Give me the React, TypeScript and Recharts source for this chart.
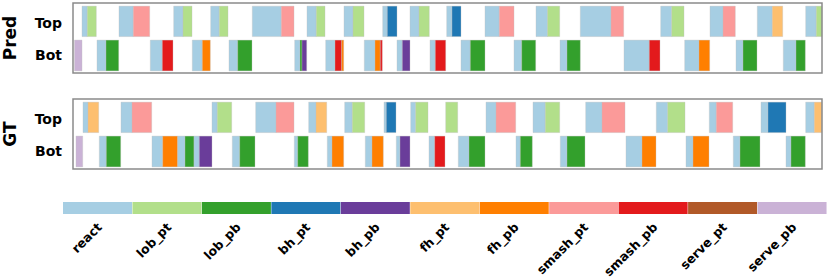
import React from "react";
import { ComposedChart, BarChart, Bar, Cell, XAxis, YAxis, ReferenceArea } from "recharts";

// action classes and their colours (colour bar order)
const classes = ["react", "lob_pt", "lob_pb", "bh_pt", "bh_pb", "fh_pt", "fh_pb", "smash_pt", "smash_pb", "serve_pt", "serve_pb"];
const classColors = ["#a6cee3", "#b2df8a", "#33a02c", "#1f78b4", "#6a3d9a", "#fdbf6f", "#ff7f00", "#fb9a99", "#e31a1c", "#b15928", "#cab2d6"];

// timeline length (frames)
const timeMax = 749;

// segments: [start, end, class]
type Seg = [number, number, string];

const predTop: Seg[] = [
  [9, 14.3, "react"], [14.3, 23.3, "lob_pt"],
  [46, 60.3, "react"], [60.3, 76.7, "smash_pt"],
  [100.7, 110, "react"], [110, 119, "lob_pt"],
  [137.7, 146.3, "react"], [146.3, 155, "lob_pt"],
  [179.3, 208.3, "react"], [208.3, 221, "smash_pt"],
  [234, 243.3, "react"], [243.3, 252, "lob_pt"],
  [271, 280, "react"], [280, 291, "lob_pt"],
  [309.7, 314.3, "react"], [314.3, 324, "bh_pt"],
  [337, 346, "react"], [346, 356.3, "lob_pt"],
  [373.7, 379, "react"], [379, 388, "bh_pt"],
  [412, 426.3, "react"], [426.3, 441, "smash_pt"],
  [463, 474.5, "react"], [474.5, 486.7, "lob_pt"],
  [507.3, 538, "react"], [538, 550.7, "smash_pt"],
  [587.7, 598.7, "react"], [598.7, 611, "lob_pt"],
  [637, 650, "react"], [650, 662.3, "smash_pt"],
  [684.3, 699.3, "react"], [699.3, 709.7, "fh_pt"],
  [732.7, 743.3, "react"], [743.3, 749, "lob_pt"],
];

const predBot: Seg[] = [
  [1.5, 9, "serve_pb"],
  [24, 33, "react"], [33, 45.7, "lob_pb"],
  [77.3, 89.3, "react"], [89.3, 100, "smash_pb"],
  [119.3, 129.3, "react"], [129.3, 137.3, "fh_pb"],
  [156, 164.7, "react"], [164.7, 179, "lob_pb"],
  [221.7, 227, "react"], [227, 229, "lob_pb"], [229, 233.7, "bh_pb"],
  [252.7, 262, "react"], [262, 268.7, "smash_pb"], [268.7, 270.7, "fh_pb"],
  [291.3, 302, "react"], [302, 307.3, "fh_pb"], [307.3, 309.3, "smash_pb"],
  [324, 329.3, "react"], [329.3, 337, "bh_pb"],
  [357, 362.3, "react"], [362.3, 372.7, "smash_pb"],
  [388, 397.3, "react"], [397.3, 412, "lob_pb"],
  [441, 448.7, "react"], [448.7, 462.7, "lob_pb"],
  [487, 494, "react"], [494, 507.3, "lob_pb"],
  [551, 576.3, "react"], [576.3, 587, "smash_pb"],
  [611.7, 626, "react"], [626, 636.7, "fh_pb"],
  [663, 670, "react"], [670, 684, "lob_pb"],
  [710.3, 723, "react"], [723, 732.3, "lob_pb"],
];

const gtTop: Seg[] = [
  [10, 15, "react"], [15, 25.7, "fh_pt"],
  [48, 59, "react"], [59, 78.7, "smash_pt"],
  [139, 144.3, "react"], [144.3, 158.7, "lob_pt"],
  [182.7, 203, "react"], [203, 221, "smash_pt"],
  [235.7, 243, "react"], [243, 253.7, "fh_pt"],
  [271.7, 279.3, "react"], [279.3, 291.7, "lob_pt"],
  [311, 313.3, "react"], [313.3, 323, "bh_pt"],
  [337.7, 342.7, "react"], [342.7, 355, "lob_pt"],
  [372.7, 384.7, "lob_pt"],
  [413, 423, "react"], [423, 442.7, "smash_pt"],
  [460, 472.3, "react"], [472.3, 486.7, "lob_pt"],
  [512.7, 529, "react"], [529, 552, "smash_pt"],
  [583.3, 594.7, "react"], [594.7, 612, "lob_pt"],
  [636.3, 643.3, "react"], [643.3, 659.7, "smash_pt"],
  [688, 695, "react"], [695, 713, "bh_pt"],
  [732.7, 741.3, "react"], [741.3, 749, "fh_pt"],
];

const gtBot: Seg[] = [
  [3, 9.7, "serve_pb"],
  [26.3, 33.3, "react"], [33.3, 47.7, "lob_pb"],
  [79, 89.7, "react"], [89.7, 104.7, "fh_pb"], [104.7, 112, "react"], [112, 121, "lob_pb"], [121, 126.3, "react"], [126.3, 139, "bh_pb"],
  [159.3, 166.7, "react"], [166.7, 182, "lob_pb"],
  [221.3, 224.7, "react"], [224.7, 235.3, "lob_pb"],
  [254.3, 259, "react"], [259, 270.7, "fh_pb"],
  [292.3, 299, "react"], [299, 310.3, "fh_pb"],
  [323.3, 327, "react"], [327, 337, "bh_pb"],
  [356, 361.7, "react"], [361.7, 372, "smash_pb"],
  [385.3, 396, "react"], [396, 412, "lob_pb"],
  [443, 447.3, "react"], [447.3, 459.3, "lob_pb"],
  [487.3, 494, "react"], [494, 512, "lob_pb"],
  [553, 569, "react"], [569, 583, "fh_pb"],
  [613, 620, "react"], [620, 636, "fh_pb"],
  [660.3, 667, "react"], [667, 687, "lob_pb"],
  [713, 718, "react"], [718, 732.3, "lob_pb"],
];

const rowLabels = ["Bot", "Top"];

const FONT = "'DejaVu Sans', sans-serif";
const colorOf = (c: string) => classColors[classes.indexOf(c)];

// vertical bands for each row in y units (Bot = 0..1, Top = 1..2)
const rowBand = { top: [1.04, 1.91], bot: [0.06, 0.94] };

function Panel({ title, top, bot, y }: { title: string; top: Seg[]; bot: Seg[]; y: number }) {
  const renderSegs = (segs: Seg[], band: number[], key: string) =>
    segs.map((s, i) => (
      <ReferenceArea
        key={key + i}
        x1={s[0]}
        x2={s[1]}
        y1={band[0]}
        y2={band[1]}
        fill={colorOf(s[2])}
        fillOpacity={1}
        stroke="rgba(190,190,190,0.45)"
        strokeWidth={0.8}
        ifOverflow="visible"
      />
    ));
  return (
    <div style={{ position: "absolute", left: 0, top: y }}>
      <ComposedChart width={830} height={78} data={[]} margin={{ top: 3, right: 8, bottom: 5, left: 0 }}>
        <XAxis type="number" dataKey="x" domain={[0, timeMax]} hide allowDataOverflow />
        <YAxis
          type="number"
          domain={[0, 2]}
          ticks={[0.5, 1.42]}
          tickFormatter={(v: number) => (v > 1 ? rowLabels[1] : rowLabels[0])}
          width={73}
          axisLine={false}
          tickLine={false}
          tickMargin={5}
          allowDataOverflow
          tick={{ fontFamily: FONT, fontWeight: "bold", fontSize: 14, fill: "#000" }}
          label={(props: any) => {
            const vb = props.viewBox || {};
            const cy = (vb.y ?? 3) + (vb.height ?? 70) / 2;
            return (
              <text
                x={10}
                y={cy}
                transform={`rotate(-90, 10, ${cy})`}
                textAnchor="middle"
                dominantBaseline="central"
                fontFamily={FONT}
                fontWeight="bold"
                fontSize={17}
                fill="#000"
              >
                {title}
              </text>
            );
          }}
        />
        {renderSegs(top, rowBand.top, "t")}
        {renderSegs(bot, rowBand.bot, "b")}
        <ReferenceArea x1={0} x2={timeMax} y1={0} y2={2} fill="none" stroke="#8a8a8a" strokeWidth={1.5} ifOverflow="visible" />
      </ComposedChart>
    </div>
  );
}

const legendData = classes.map((c) => ({ name: c, v: 1 }));

const LegendTick = (props: any) => {
  const { x, y, payload } = props;
  const ax = x + 5;
  const ay = y + 6;
  return (
    <g transform={`translate(${ax},${ay})`}>
      <text
        x={0}
        y={0}
        transform="rotate(-45)"
        textAnchor="end"
        fontFamily={FONT}
        fontWeight="bold"
        fontSize={12.5}
        fill="#000"
      >
        {payload.value}
      </text>
    </g>
  );
};

export default function App() {
  return (
    <div style={{ position: "absolute", left: 0, top: 0, width: 830, height: 278, background: "#fff", overflow: "hidden" }}>
      <Panel title="Pred" top={predTop} bot={predBot} y={0} />
      <Panel title="GT" top={gtTop} bot={gtBot} y={96} />
      <div style={{ position: "absolute", left: 0, top: 195 }}>
        <BarChart
          width={830}
          height={83}
          data={legendData}
          margin={{ top: 7, right: 3, bottom: 0, left: 63 }}
          barCategoryGap={0}
          barGap={0}
        >
          <XAxis
            dataKey="name"
            interval={0}
            axisLine={false}
            tickLine={false}
            height={64}
            tick={(p: any) => <LegendTick {...p} />}
          />
          <YAxis hide domain={[0, 1]} />
          <Bar dataKey="v" isAnimationActive={false}>
            {legendData.map((d, i) => (
              <Cell key={d.name} fill={classColors[i]} />
            ))}
          </Bar>
        </BarChart>
      </div>
    </div>
  );
}
